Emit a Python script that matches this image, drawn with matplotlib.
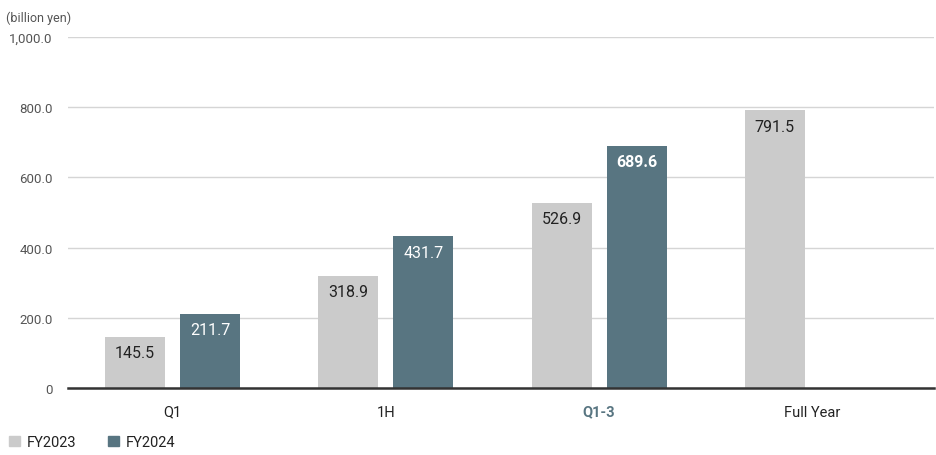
import numpy as np
import matplotlib.pyplot as plt
from matplotlib.patches import Patch

categories = ['Q1', '1H', 'Q1-3', 'Full Year']
fy2023 = [145.5, 318.9, 526.9, 791.5]
fy2024 = [211.7, 431.7, 689.6, None]
yticks = [0, 200, 400, 600, 800, 1000]
ytick_labels = ['0', '200.0', '400.0', '600.0', '800.0', '1,000.0']

GRAY = '#cbcbcb'
TEAL = '#587581'

plt.rcParams['font.family'] = ['Roboto', 'DejaVu Sans']

fig = plt.figure(figsize=(9.36, 4.56), dpi=100)
ax = fig.add_axes([68 / 936, 1 - 389 / 456, 866 / 936, 351 / 456])

x = np.arange(len(categories))
w = 60 / 213
off = 37.5 / 213

for i, v in enumerate(fy2023):
    ax.bar(x[i] - off, v, w, color=GRAY, zorder=2)
    ax.annotate(f'{v:.1f}', (x[i] - off, v), xytext=(0, -6), textcoords='offset points',
                ha='center', va='top', fontsize=11.5, color='#222222', zorder=3)
for i, v in enumerate(fy2024):
    if v is None:
        continue
    ax.bar(x[i] + off, v, w, color=TEAL, zorder=2)
    bold = categories[i] == 'Q1-3'
    ax.annotate(f'{v:.1f}', (x[i] + off, v), xytext=(0, -6), textcoords='offset points',
                ha='center', va='top', fontsize=11.5, color='white',
                fontweight='bold' if bold else 'normal', zorder=3)

ax.set_xlim(-0.49, 3.57)
ax.set_ylim(0, 1000)
ax.set_yticks(yticks)
ax.set_yticklabels(ytick_labels, fontsize=9.5, color='#555555')
ax.set_xticks(x)
ax.set_xticklabels(categories, fontsize=10.5, color='#222222')
for lab in ax.get_xticklabels():
    if lab.get_text() == 'Q1-3':
        lab.set_fontweight('bold')
        lab.set_color(TEAL)
ax.tick_params(axis='both', length=0)
ax.tick_params(axis='y', pad=11)
ax.tick_params(axis='x', pad=12)
ax.yaxis.grid(True, color='#d5d5d5', linewidth=1, zorder=0)
for s in ['top', 'right', 'left']:
    ax.spines[s].set_visible(False)
ax.spines['bottom'].set_color('#333333')
ax.spines['bottom'].set_linewidth(1.8)
ax.spines['bottom'].set_zorder(4)

fig.text(6 / 936, 1 - 18 / 456, '(billion yen)', fontsize=9, color='#555555', va='center')

handles = [Patch(color=GRAY, label='FY2023'), Patch(color=TEAL, label='FY2024')]
fig.legend(handles=handles, loc='center left', bbox_to_anchor=(-4 / 936, 1 - 443 / 456), ncol=2,
           frameon=False, fontsize=10.5, handlelength=0.75, handleheight=0.75, handletextpad=0.45,
           columnspacing=2.2, labelcolor='#222222')

fig.savefig('out.png', dpi=100)
